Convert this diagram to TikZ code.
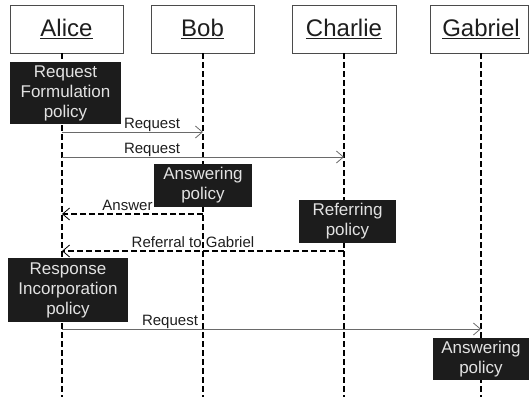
\documentclass[tikz,border=0pt]{standalone}
\usepackage{fontspec}
\setmainfont{Liberation Sans}
\usetikzlibrary{arrows.meta}
\definecolor{boxfill}{HTML}{1C1C1C}
\definecolor{boxtext}{HTML}{E2E2E2}
\definecolor{msggray}{HTML}{6A6A6A}
\definecolor{ink}{HTML}{1E1E1E}
\tikzset{
  actor/.style={draw=ink!80, line width=0.8bp, fill=white, inner sep=0pt,
    minimum height=48bp, text=ink, font=\fontsize{24bp}{28bp}\selectfont},
  policy/.style={fill=boxfill, text=boxtext, inner sep=0pt, align=center,
    font=\fontsize{17bp}{20bp}\selectfont},
  lifeline/.style={line width=1.8bp, black, dash pattern=on 6bp off 3bp},
  msg/.style={draw=msggray, line width=1bp,
    -{Straight Barb[length=7bp,width=12bp,line width=0.8bp]}},
  reply/.style={draw=black, line width=1.5bp, dash pattern=on 6bp off 3bp,
    -{Straight Barb[length=7bp,width=12bp,line width=0.8bp,sep=0pt]}, shorten >=0bp},
  lbl/.style={text=ink, inner sep=0pt, anchor=base, font=\fontsize{15bp}{18bp}\selectfont}
}
\begin{document}
\begin{tikzpicture}[x=1bp,y=-1bp]
\useasboundingbox (0,0) rectangle (529,397);
% actors
\node[actor, minimum width=113bp] (alice) at (66.5,29) {\underline{Alice}\hspace{9bp}};
\node[actor, minimum width=103bp] (bob) at (202.5,29) {\underline{Bob}};
\node[actor, minimum width=104bp] (charlie) at (344,29) {\underline{Charlie}};
\node[actor, minimum width=98bp] (gabriel) at (479.5,29) {\hspace{3bp}\underline{Gabriel}};
% lifeline ends
\coordinate (aS) at (62,53);  \coordinate (aE) at (62,397);
\coordinate (bS) at (203,53); \coordinate (bE) at (203,397);
\coordinate (cS) at (344,53); \coordinate (cE) at (344,397);
\coordinate (gS) at (481,53); \coordinate (gE) at (481,397);
\draw[lifeline] (aS) -- (aE);
\draw[lifeline] (bS) -- (bE);
\draw[lifeline] (cS) -- (cE);
\draw[lifeline] (gS) -- (gE);
% policy boxes
\node[policy, minimum width=111bp, minimum height=62bp] (rf) at (65.5,93) {Request\\Formulation\\policy};
\node[policy, minimum width=98bp, minimum height=43bp] (bans) at (203,185.5) {Answering\\policy};
\node[policy, minimum width=97bp, minimum height=43bp] (cref) at (347.5,221.5) {Referring\\policy};
\node[policy, minimum width=120bp, minimum height=64bp] (ri) at (68,290) {Response\\Incorporation\\policy};
\node[policy, minimum width=96bp, minimum height=42bp] (gans) at (481,359) {Answering\\policy};
% message points
\coordinate (a1) at (62,132);  \coordinate (b1) at (203,132);
\coordinate (a2) at (62,157);  \coordinate (c2) at (344,157);
\coordinate (b3) at (203,214); \coordinate (a3) at (62,214);
\coordinate (c4) at (344,251); \coordinate (a4) at (62,251);
\coordinate (a5) at (62,329);  \coordinate (g5) at (481,329);
% messages
\draw[msg] (a1) -- (b1);
\node[lbl] at (152,128) {Request};
\draw[msg] (a2) -- (c2);
\node[lbl] at (152,153) {Request};
\draw[reply] (b3) -- (a3);
\node[lbl] at (127.5,210) {Answer};
\draw[reply] (c4) -- (a4);
\node[lbl] at (193,247) {Referral to Gabriel};
\draw[msg] (a5) -- (g5);
\node[lbl] at (170,325) {Request};
\end{tikzpicture}
\end{document}
